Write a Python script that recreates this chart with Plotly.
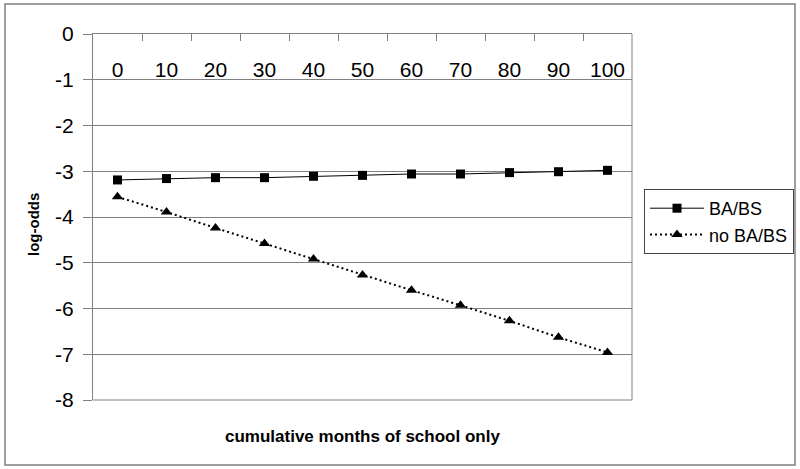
import plotly.graph_objects as go

categories = ["0", "10", "20", "30", "40", "50", "60", "70", "80", "90", "100"]
ba_bs = [-3.19, -3.16, -3.14, -3.14, -3.11, -3.09, -3.06, -3.06, -3.03, -3.01, -2.98]
no_ba_bs = [-3.56, -3.89, -4.24, -4.58, -4.92, -5.27, -5.60, -5.93, -6.27, -6.63, -6.96]
y_ticks = [0, -1, -2, -3, -4, -5, -6, -7, -8]

W, H = 800, 469
L, R, T, B = 93, 632, 34, 400
pw, ph = R - L, B - T

def px(x):
    return (x - L) / pw

def py(y):
    return (B - y) / ph

fig = go.Figure()
fig.add_trace(go.Scatter(
    x=categories, y=ba_bs, name="BA/BS", mode="lines+markers",
    xaxis="x", yaxis="y",
    line=dict(color="black", width=1),
    marker=dict(symbol="square", size=9, color="black"),
))
fig.add_trace(go.Scatter(
    x=categories, y=no_ba_bs, name="no BA/BS", mode="lines+markers",
    xaxis="x2", yaxis="y",
    line=dict(color="black", width=2, dash="2px,3px"),
    marker=dict(symbol="triangle-up", size=10, color="black"),
))

font_family = "Arial, Liberation Sans, sans-serif"
fig.update_layout(
    width=W, height=H,
    margin=dict(l=L, r=W - R, t=T, b=H - B, autoexpand=False),
    paper_bgcolor="white", plot_bgcolor="white",
    font=dict(family=font_family, color="black"),
    showlegend=True,
    legend=dict(
        x=px(644), y=py(189), xanchor="left", yanchor="top",
        bordercolor="#444444", borderwidth=1, bgcolor="white",
        font=dict(size=18, family=font_family, color="black"),
        tracegroupgap=0, itemwidth=54,
    ),
    xaxis=dict(
        type="category", categoryorder="array", categoryarray=categories,
        range=[-0.5, 10.5],
        side="top", showgrid=False, zeroline=False,
        showline=True, linecolor="#808080", linewidth=1,
        ticks="inside", tickson="boundaries", ticklen=7, tickcolor="#808080",
        showticklabels=False,
        fixedrange=True,
    ),
    xaxis2=dict(
        type="category", categoryorder="array", categoryarray=categories,
        overlaying="x", anchor="free", position=py(55), side="bottom",
        range=[-0.5, 10.5],
        showgrid=False, zeroline=False, showline=False, ticks="",
        tickfont=dict(size=21, family=font_family, color="black"),
        fixedrange=True,
    ),
    yaxis=dict(
        range=[-8, 0], tickvals=y_ticks, ticktext=[str(v) for v in y_ticks],
        showgrid=True, gridcolor="#808080", gridwidth=1,
        zeroline=False, showline=True, linecolor="#808080", linewidth=1,
        ticks="outside", ticklen=9, tickcolor="#808080",
        ticklabelstandoff=5,
        tickfont=dict(size=21, family=font_family, color="black"),
        fixedrange=True,
    ),
)

# bottom & right plot-area border
fig.add_shape(type="line", xref="paper", yref="paper", x0=0, x1=1, y0=0, y1=0,
              line=dict(color="#808080", width=1))
fig.add_shape(type="line", xref="paper", yref="paper", x0=1, x1=1, y0=0, y1=1,
              line=dict(color="#808080", width=1))
# outer chart border
fig.add_shape(type="rect", xref="paper", yref="paper",
              x0=px(5), x1=px(795), y0=py(465), y1=py(4),
              line=dict(color="#808080", width=1.5), layer="below")

fig.add_annotation(text="<b>cumulative months of school only</b>", xref="paper", yref="paper",
                   x=0.5, y=py(436), showarrow=False, xanchor="center", yanchor="middle",
                   font=dict(size=17, family=font_family, color="black"))
fig.add_annotation(text="<b>log-odds</b>", xref="paper", yref="paper",
                   x=px(33), y=py(225), showarrow=False, textangle=-90,
                   xanchor="center", yanchor="middle",
                   font=dict(size=15, family=font_family, color="black"))

fig.write_html("out.html", config={"displayModeBar": False},
               post_script="document.body.style.margin='0';document.body.style.overflow='hidden';")
